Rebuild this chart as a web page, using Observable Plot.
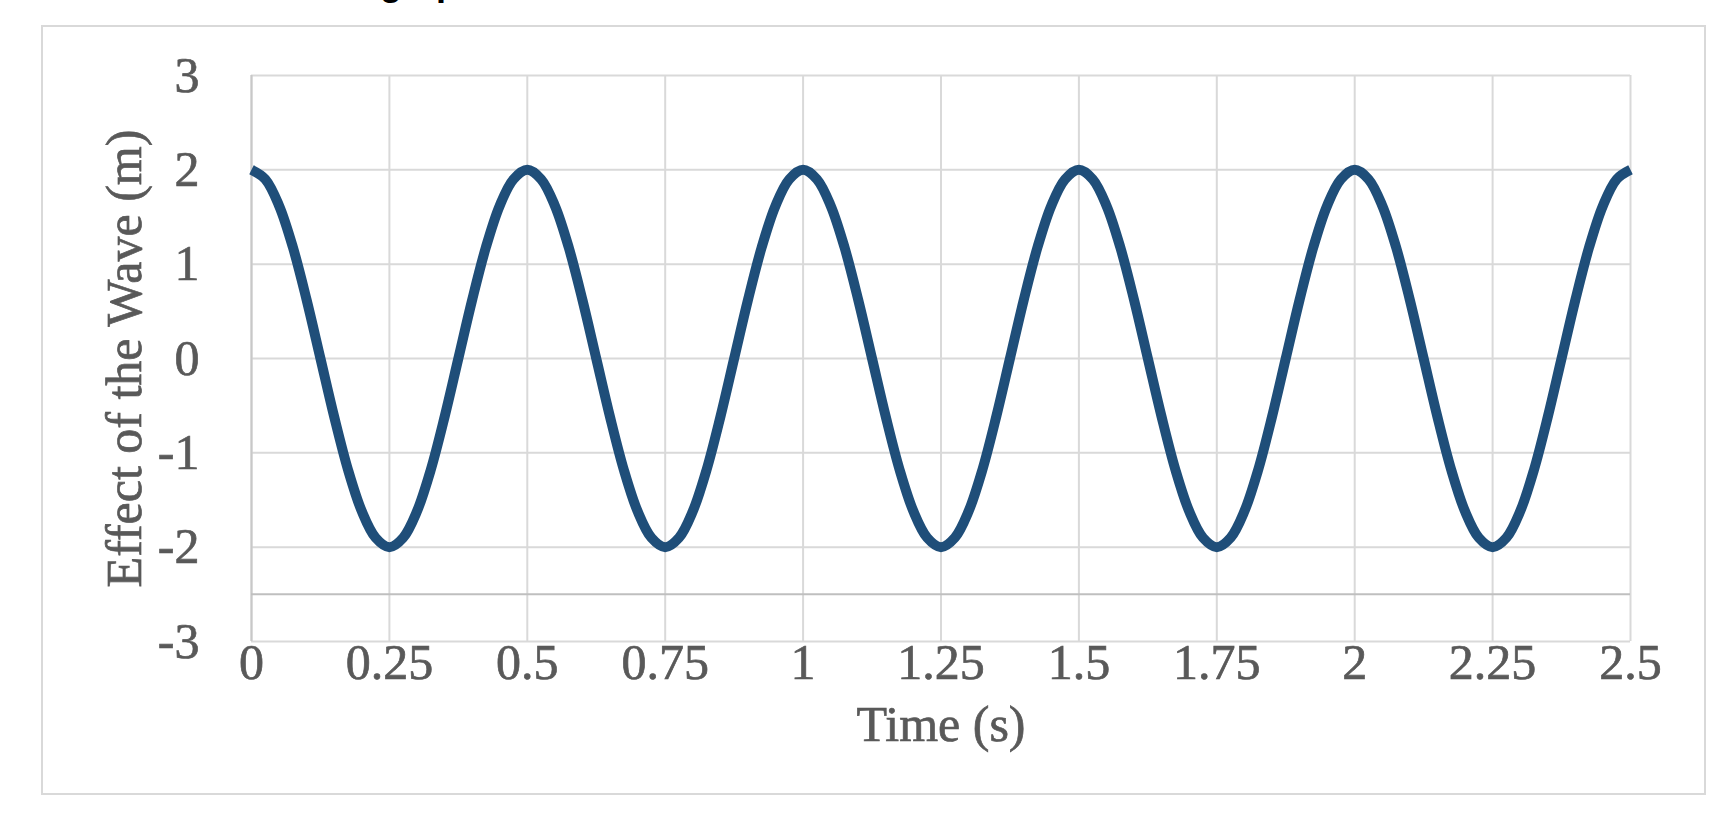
<!DOCTYPE html>
<html>
<head>
<meta charset="utf-8">
<script src="https://cdn.jsdelivr.net/npm/d3@7"></script>
<script src="https://cdn.jsdelivr.net/npm/@observablehq/plot@0.6"></script>
<style>
  html, body { margin: 0; padding: 0; background: #ffffff; }
  #wrap { position: relative; width: 1736px; height: 816px; overflow: hidden; background: #ffffff; }
  #frame { position: absolute; left: 41px; top: 25px; width: 1665px; height: 770px; border: 2px solid #d9d9d9; box-sizing: border-box; }
  #title { position: absolute; left: 380px; top: -38px; font: bold 36px "Liberation Sans", Arial, sans-serif; color: #000000; white-space: nowrap; }
  #chart { position: absolute; left: 0; top: 0; }
  #chart svg text { stroke: #595959; stroke-width: 0.7px; }
</style>
</head>
<body>
<div id="wrap">
  <div id="title">graph</div>
  <div id="frame"></div>
  <div id="chart"></div>
</div>
<script>
// Time (s) samples
const times = [
  0, 0.025, 0.05, 0.075, 0.1, 0.125, 0.15, 0.175, 0.2, 0.225,
  0.25, 0.275, 0.3, 0.325, 0.35, 0.375, 0.4, 0.425, 0.45, 0.475,
  0.5, 0.525, 0.55, 0.575, 0.6, 0.625, 0.65, 0.675, 0.7, 0.725,
  0.75, 0.775, 0.8, 0.825, 0.85, 0.875, 0.9, 0.925, 0.95, 0.975,
  1, 1.025, 1.05, 1.075, 1.1, 1.125, 1.15, 1.175, 1.2, 1.225,
  1.25, 1.275, 1.3, 1.325, 1.35, 1.375, 1.4, 1.425, 1.45, 1.475,
  1.5, 1.525, 1.55, 1.575, 1.6, 1.625, 1.65, 1.675, 1.7, 1.725,
  1.75, 1.775, 1.8, 1.825, 1.85, 1.875, 1.9, 1.925, 1.95, 1.975,
  2, 2.025, 2.05, 2.075, 2.1, 2.125, 2.15, 2.175, 2.2, 2.225,
  2.25, 2.275, 2.3, 2.325, 2.35, 2.375, 2.4, 2.425, 2.45, 2.475,
  2.5
];
// Effect of the wave (m)
const effect = [
  2, 1.9, 1.62, 1.18, 0.62, 0, -0.62, -1.18, -1.62, -1.9,
  -2, -1.9, -1.62, -1.18, -0.62, 0, 0.62, 1.18, 1.62, 1.9,
  2, 1.9, 1.62, 1.18, 0.62, 0, -0.62, -1.18, -1.62, -1.9,
  -2, -1.9, -1.62, -1.18, -0.62, 0, 0.62, 1.18, 1.62, 1.9,
  2, 1.9, 1.62, 1.18, 0.62, 0, -0.62, -1.18, -1.62, -1.9,
  -2, -1.9, -1.62, -1.18, -0.62, 0, 0.62, 1.18, 1.62, 1.9,
  2, 1.9, 1.62, 1.18, 0.62, 0, -0.62, -1.18, -1.62, -1.9,
  -2, -1.9, -1.62, -1.18, -0.62, 0, 0.62, 1.18, 1.62, 1.9,
  2, 1.9, 1.62, 1.18, 0.62, 0, -0.62, -1.18, -1.62, -1.9,
  -2, -1.9, -1.62, -1.18, -0.62, 0, 0.62, 1.18, 1.62, 1.9,
  2
];
const xTicks = [0, 0.25, 0.5, 0.75, 1, 1.25, 1.5, 1.75, 2, 2.25, 2.5];
const yTicks = [-3, -2, -1, 0, 1, 2, 3];
const axisCross = [-2.5];
const xTitle = "Time (s)";
const yTitle = "Effect of the Wave (m)";

const data = times.map((t, i) => ({t, v: effect[i]}));

const textColor = "#595959";
const gridColor = "#d9d9d9";
const fontFamily = "'Liberation Serif', 'Times New Roman', serif";

const chart = Plot.plot({
  width: 1736,
  height: 816,
  marginLeft: 251,
  marginRight: 106,
  marginTop: 75,
  marginBottom: 175,
  style: {fontFamily, fontSize: "50px", color: textColor, background: "transparent", overflow: "visible"},
  x: {domain: [0, 2.5]},
  y: {domain: [-3, 3]},
  marks: [
    Plot.gridX(xTicks, {stroke: gridColor, strokeOpacity: 1, strokeWidth: 2}),
    Plot.gridY(yTicks, {stroke: gridColor, strokeOpacity: 1, strokeWidth: 2}),
    Plot.ruleX([0], {stroke: "#c8c8c8", strokeWidth: 2}),
    Plot.ruleY(axisCross, {stroke: "#bfbfbf", strokeWidth: 2}),
    Plot.line(data, {x: "t", y: "v", stroke: "#1f4e79", strokeWidth: 10, curve: "catmull-rom", strokeLinecap: "butt", strokeLinejoin: "round"}),
    Plot.axisX(xTicks, {tickSize: 0, tickPadding: 2, tickFormat: d => String(d), fontSize: 50, label: null}),
    Plot.axisY(yTicks, {tickSize: 0, tickPadding: 52, tickFormat: d => String(d), fontSize: 50, label: null}),
    Plot.text([xTitle], {text: d => d, frameAnchor: "bottom", dy: 83, lineAnchor: "middle", textAnchor: "middle", fontSize: 50, fill: textColor}),
    Plot.text([yTitle], {text: d => d, frameAnchor: "left", dx: -127, rotate: -90, lineAnchor: "middle", textAnchor: "middle", fontSize: 50, fill: textColor})
  ]
});
document.getElementById("chart").appendChild(chart);
</script>
</body>
</html>
